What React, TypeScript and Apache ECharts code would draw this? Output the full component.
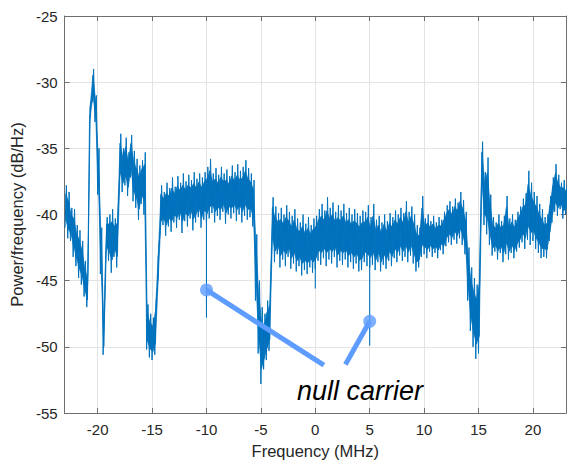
import React, { useEffect, useRef } from 'react';
import * as echarts from 'echarts';

// Frequency bins (MHz) of the estimated spectrum envelope
const FREQ_START_MHZ = -23;
const FREQ_STEP_MHZ = 0.25;

// Upper envelope of the PSD trace (dB/Hz), one value per 0.25 MHz bin from -23 to 23 MHz
const UPPER_DB = [
  -37.8, -38.3, -39.5, -39.6,
  -40.8, -41.2, -42.0, -43.5,
  -44.3, -31.5, -29.0, -31.0,
  -35.0, -41.0, -47.5, -40.2,
  -40.0, -39.6, -40.3, -39.8,
  -33.9, -35.0, -34.2, -35.3,
  -34.0, -35.2, -35.8, -36.3,
  -35.9, -35.3, -46.8, -47.5,
  -47.8, -46.5, -42.5, -37.8,
  -38.3, -37.6, -38.0, -37.2,
  -37.9, -37.1, -37.6, -36.9,
  -37.5, -37.0, -37.4, -36.8,
  -37.3, -36.9, -37.2, -36.8,
  -36.4, -35.8, -36.9, -36.5,
  -37.0, -36.4, -36.9, -36.6,
  -37.1, -36.3, -36.8, -36.2,
  -36.7, -36.4, -35.9, -36.5,
  -36.9, -37.4, -41.5, -45.0,
  -47.0, -47.5, -46.5, -46.0,
  -38.7, -39.4, -39.9, -39.5,
  -40.0, -39.3, -39.8, -40.1,
  -39.6, -40.3, -40.6, -40.0,
  -40.7, -40.2, -40.8, -40.3,
  -40.1, -39.6, -39.2, -39.7,
  -38.7, -39.5, -39.1, -39.8,
  -39.3, -39.7, -39.2, -39.9,
  -39.5, -40.0, -39.6, -39.9,
  -40.1, -39.7, -39.8, -39.3,
  -40.2, -39.2, -40.4, -40.1,
  -40.6, -40.0, -40.5, -39.9,
  -40.2, -39.7, -40.0, -39.5,
  -39.9, -39.0, -39.8, -39.4,
  -40.0, -40.8, -41.0, -38.6,
  -40.3, -40.0, -40.5, -40.1,
  -40.6, -40.2, -40.4, -39.8,
  -39.3, -39.0, -39.4, -38.8,
  -39.1, -38.3, -38.9, -39.8,
  -42.5, -44.0, -44.8, -45.3,
  -44.0, -34.5, -36.8, -35.7,
  -38.5, -40.2, -40.6, -40.0,
  -40.5, -40.1, -38.6, -40.3,
  -40.0, -40.4, -39.8, -39.4,
  -38.8, -38.4, -36.7, -37.6,
  -38.3, -38.6, -39.2, -39.6,
  -40.2, -40.0, -38.6, -37.2,
  -36.2, -37.0, -37.6, -37.4,
  -37.8,
];

// Lower envelope of the PSD trace (dB/Hz), same bins
const LOWER_DB = [
  -41.0, -41.8, -42.0, -43.2,
  -43.9, -44.8, -45.3, -46.2,
  -47.0, -33.0, -31.5, -33.0,
  -38.5, -44.5, -50.6, -43.0,
  -43.5, -44.4, -43.2, -44.0,
  -37.5, -38.3, -37.8, -38.6,
  -37.2, -39.0, -39.5, -40.4,
  -39.2, -40.0, -50.2, -50.8,
  -51.0, -50.6, -45.5, -41.2,
  -40.8, -41.6, -40.9, -41.3,
  -40.6, -41.0, -40.4, -41.4,
  -40.5, -40.9, -40.3, -41.2,
  -40.6, -40.2, -41.0, -40.4,
  -40.8, -40.3, -39.9, -40.6,
  -40.1, -40.4, -39.8, -40.7,
  -40.0, -40.3, -39.9, -40.5,
  -40.0, -40.6, -40.1, -40.4,
  -40.2, -40.9, -46.5, -50.5,
  -52.8, -51.7, -51.0, -50.3,
  -42.5, -43.6, -43.0, -44.0,
  -43.4, -43.9, -43.2, -44.1,
  -43.7, -44.3, -43.9, -44.6,
  -44.2, -44.5, -44.0, -44.4,
  -44.1, -43.5, -43.8, -43.3,
  -43.9, -43.4, -43.7, -43.2,
  -44.0, -43.5, -43.8, -43.4,
  -44.0, -43.6, -44.1, -43.7,
  -44.3, -44.2, -43.6, -43.9,
  -44.0, -43.8, -44.2, -43.6,
  -44.3, -43.8, -44.1, -43.5,
  -43.9, -43.3, -43.6, -43.1,
  -43.5, -43.2, -43.6, -43.1,
  -43.7, -44.3, -44.0, -43.2,
  -43.0, -43.3, -42.8, -43.2,
  -42.9, -43.3, -42.7, -43.0,
  -42.4, -42.1, -42.3, -41.9,
  -42.2, -41.8, -42.3, -43.0,
  -46.5, -48.8, -50.0, -50.9,
  -50.5, -38.5, -40.8, -41.5,
  -42.3, -43.1, -42.8, -43.4,
  -42.9, -43.6, -43.0, -43.4,
  -42.9, -43.3, -42.8, -42.5,
  -42.1, -42.6, -41.9, -42.3,
  -42.0, -42.6, -42.9, -43.3,
  -43.2, -43.3, -42.0, -40.6,
  -39.8, -40.1, -39.6, -40.3,
  -40.0,
];

// Narrow dips of the null carriers (MHz, dB/Hz)
const NULL_SPIKE_FREQ = [-10, 0, 5];
const NULL_SPIKE_DB = [-47.8, -45.6, -49.9];

const FREQ_MHZ = LOWER_DB.map((_, i) => FREQ_START_MHZ + i * FREQ_STEP_MHZ);

// Annotation: dots on the null carriers and the pointer line ends
const NULL_CARRIER_DOTS: [number, number][] = [[-10, -45.7], [5, -48.07]];
const POINTER_ENDS: [number, number][] = [[0.79, -51.39], [2.77, -51.33]];
const ANNOTATION_TEXT = 'null carrier';

const X_MIN = -23.04;
const X_MAX = 23.04;
const Y_MIN = -55;
const Y_MAX = -25;

const FONT = '"Liberation Sans", Arial, Helvetica, sans-serif';
const TRACE = '#0072BD';
const ANNOT = '#5E9CFF';
const AXIS = '#6e6e6e';
const GRIDC = '#e3e3e3';

// share of the envelope span that is drawn as a solid core (inset from each edge)
const CORE_INSET = 0.2;

export default function App() {
  const ref = useRef<HTMLDivElement>(null);
  useEffect(() => {
    if (!ref.current) return;
    const chart = echarts.init(ref.current, undefined, { renderer: 'svg' });

    const trace: [number, number][] = [];
    FREQ_MHZ.forEach((f, i) => {
      trace.push([f, LOWER_DB[i]]);
      trace.push([f + FREQ_STEP_MHZ / 2, UPPER_DB[i]]);
    });

    const coreLo = (i: number) => LOWER_DB[i] + CORE_INSET * (UPPER_DB[i] - LOWER_DB[i]);
    const coreHi = (i: number) => UPPER_DB[i] - CORE_INSET * (UPPER_DB[i] - LOWER_DB[i]);
    const q = FREQ_STEP_MHZ / 4;
    const coreQuads = FREQ_MHZ.slice(0, -1).map((f, i) => [
      f + q, coreLo(i), coreHi(i), FREQ_MHZ[i + 1] + q, coreLo(i + 1), coreHi(i + 1),
    ]);

    const spikes = NULL_SPIKE_FREQ.map((f, k) => {
      const i = Math.round((f - FREQ_START_MHZ) / FREQ_STEP_MHZ);
      return [f, coreLo(i), NULL_SPIKE_DB[k]];
    });

    const xBase = {
      type: 'value' as const,
      min: X_MIN,
      max: X_MAX,
      minInterval: 5,
      maxInterval: 5,
      splitNumber: 9,
      axisLine: { show: true, onZero: false, lineStyle: { color: AXIS, width: 1 } },
      axisTick: { show: true, inside: true, length: 5, lineStyle: { color: AXIS } },
    };
    const yBase = {
      type: 'value' as const,
      min: Y_MIN,
      max: Y_MAX,
      interval: 5,
      axisLine: { show: true, onZero: false, lineStyle: { color: AXIS, width: 1 } },
      axisTick: { show: true, inside: true, length: 5, lineStyle: { color: AXIS } },
    };
    const fmt = (v: number) => (Math.abs(v / 5 - Math.round(v / 5)) < 1e-6 ? String(Math.round(v)) : '');

    chart.setOption({
      animation: false,
      backgroundColor: '#ffffff',
      grid: { left: 62, right: 1, top: 16, bottom: 48, containLabel: false },
      xAxis: [
        {
          ...xBase,
          position: 'bottom',
          name: 'Frequency (MHz)',
          nameLocation: 'middle',
          nameGap: 29,
          nameTextStyle: { color: '#262626', fontSize: 16.5, fontFamily: FONT },
          axisLabel: {
            show: true, margin: 9, color: '#262626', fontSize: 15, fontFamily: FONT,
            showMinLabel: false, showMaxLabel: false, formatter: fmt,
          },
          splitLine: { show: true, lineStyle: { color: GRIDC, width: 1 } },
        },
        {
          ...xBase,
          position: 'top',
          axisLabel: { show: false },
          splitLine: { show: false },
        },
      ],
      yAxis: [
        {
          ...yBase,
          position: 'left',
          name: 'Power/frequency (dB/Hz)',
          nameLocation: 'middle',
          nameGap: 34,
          nameTextStyle: { color: '#262626', fontSize: 16.5, fontFamily: FONT },
          axisLabel: { show: true, margin: 7, color: '#262626', fontSize: 15, fontFamily: FONT },
          splitLine: { show: true, lineStyle: { color: GRIDC, width: 1 } },
        },
        {
          ...yBase,
          position: 'right',
          axisLabel: { show: false },
          splitLine: { show: false },
        },
      ],
      series: [
        {
          type: 'custom',
          data: coreQuads,
          clip: true,
          encode: { x: [0, 3], y: [1, 2, 4, 5] },
          renderItem: (_params: any, api: any) => {
            const p1 = api.coord([api.value(0), api.value(1)]);
            const p2 = api.coord([api.value(0), api.value(2)]);
            const p3 = api.coord([api.value(3), api.value(5)]);
            const p4 = api.coord([api.value(3), api.value(4)]);
            return {
              type: 'polygon',
              shape: { points: [p1, p2, p3, p4] },
              style: { fill: TRACE, stroke: TRACE, lineWidth: 0.6 },
            };
          },
          z: 1,
        },
        {
          type: 'line',
          data: trace,
          showSymbol: false,
          symbol: 'none',
          clip: true,
          lineStyle: { color: TRACE, width: 1 },
          z: 2,
        },
        {
          type: 'custom',
          data: spikes,
          clip: true,
          encode: { x: 0, y: [1, 2] },
          renderItem: (_params: any, api: any) => {
            const a = api.coord([api.value(0), api.value(1)]);
            const b = api.coord([api.value(0), api.value(2)]);
            return {
              type: 'line',
              shape: { x1: a[0], y1: a[1], x2: b[0], y2: b[1] },
              style: { stroke: TRACE, lineWidth: 1.1 },
            };
          },
          z: 3,
        },
        ...NULL_CARRIER_DOTS.map((d, i) => ({
          type: 'line',
          data: [d, POINTER_ENDS[i]],
          showSymbol: false,
          symbol: 'none',
          clip: false,
          lineStyle: { color: ANNOT, width: 5, cap: 'butt' },
          z: 5,
        })),
        {
          type: 'scatter',
          data: NULL_CARRIER_DOTS,
          symbol: 'circle',
          symbolSize: 13,
          itemStyle: { color: ANNOT },
          z: 6,
        },
      ],
      graphic: [
        {
          type: 'text',
          x: 297,
          y: 391,
          z: 10,
          style: {
            text: ANNOTATION_TEXT,
            font: `italic 27px ${FONT}`,
            fill: '#000000',
            align: 'left',
            verticalAlign: 'middle',
          },
        },
      ],
    });
    return () => chart.dispose();
  }, []);

  return (
    <div
      ref={ref}
      style={{ position: 'fixed', left: 0, top: 0, width: 567, height: 464, background: '#fff' }}
    />
  );
}
